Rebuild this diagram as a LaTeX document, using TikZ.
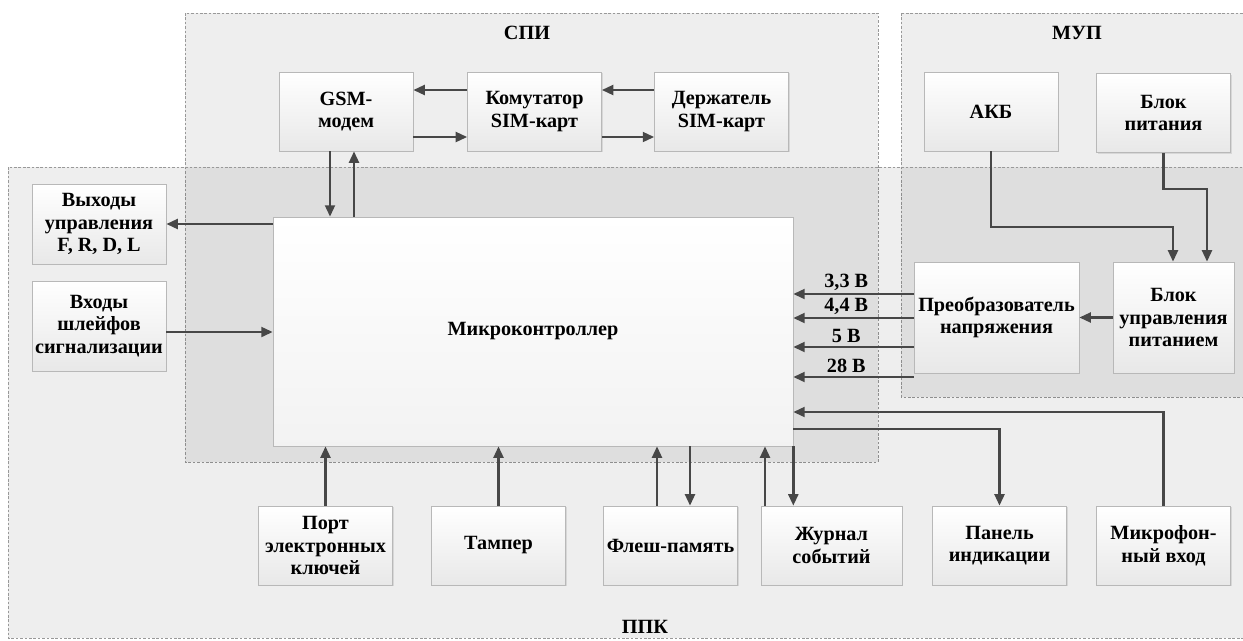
\documentclass[tikz,border=0pt]{standalone}
\usepackage{fontspec}
\setmainfont{Liberation Serif}
\usepackage{tikz}
\usetikzlibrary{positioning,
				arrows.meta,
				shadows,
				calc}

\begin{document}
\begin{tikzpicture}[x=0.02cm, y=-0.02cm,
		font=\fontsize{11.5}{12.8}\selectfont\bfseries,
		zone/.style={draw=black!40, dash pattern=on 1.5pt off 1pt, line width=0.4pt, fill=black, fill opacity=0.065},
		blk/.style={draw=black!28, top color=white, bottom color=black!9, align=center, inner sep=0pt,
			minimum width=2.68cm, minimum height=1.58cm,
			drop shadow={shadow xshift=0.8pt, shadow yshift=-0.8pt, opacity=0.2}},
		arr/.style={draw=black!72, line width=1.4pt, -{Triangle[length=6.5pt, width=5.6pt]}}]
	   \useasboundingbox (0,0) rectangle (1243,640);
	   % zones
	   \draw[zone] (185,13) rectangle (878,462);
	   \draw[zone] (901,13) rectangle (1250,397);
	   \draw[zone] (8,167) rectangle (1250,638);
	   \node at (527,33) {СПИ};
	   \node at (1077,33) {МУП};
	   \node at (645,627) {ППК};
	   % blocks
	   \node[blk] (gsm) at (346,111.5) {GSM-\\модем};
	   \node[blk] (kom) at (534.5,111.5) {Комутатор\\SIM-карт};
	   \node[blk] (derzh) at (721.5,111.5) {Держатель\\SIM-карт};
	   \node[blk] (akb) at (991,111.5) {АКБ};
	   \node[blk] (bp) at (1163.5,113) {Блок\\питания};
	   \node[blk, minimum height=1.6cm] (vyh) at (99,224) {Выходы\\управления\\F, R, D, L};
	   \node[blk, minimum height=1.8cm] (vh) at (99,326) {Входы\\шлейфов\\сигнализации};
	   \node[blk, bottom color=black!5, minimum width=10.4cm, minimum height=4.58cm] (mc) at (533,331.5) {Микроконтроллер};
	   \node[blk, minimum width=3.3cm, minimum height=2.22cm] (conv) at (996.5,317.5) {Преобразователь\\напряжения};
	   \node[blk, minimum width=2.42cm, minimum height=2.22cm] (bup) at (1173.5,317.5) {Блок\\управления\\питанием};
	   \node[blk] (port) at (325.5,545.5) {Порт\\электронных\\ключей};
	   \node[blk] (tamp) at (498.5,545.5) {Тампер};
	   \node[blk] (flash) at (670.5,545.5) {Флеш-память};
	   \node[blk, minimum width=2.82cm] (zhur) at (831.5,545.5) {Журнал\\событий};
	   \node[blk] (panel) at (999.5,545.5) {Панель\\индикации};
	   \node[blk] (mic) at (1163.5,545.5) {Микрофон-\\ный вход};
	   % links
	   \draw[arr] (kom.west |- 0,90) -- (gsm.east |- 0,90);
	   \draw[arr] (gsm.east |- 0,137) -- (kom.west |- 0,137);
	   \draw[arr] (derzh.west |- 0,90) -- (kom.east |- 0,90);
	   \draw[arr] (kom.east |- 0,137) -- (derzh.west |- 0,137);
	   \draw[arr] (gsm.south -| 330,0) -- (mc.north -| 330,0);
	   \draw[arr] (mc.north -| 354,0) -- (gsm.south -| 354,0);
	   \draw[arr] (mc.west |- 0,224) -- (vyh.east |- 0,224);
	   \draw[arr] (vh.east |- 0,332) -- (mc.west |- 0,332);
	   \draw[arr] (port.north) -- (mc.south -| port.north);
	   \draw[arr] (tamp.north) -- (mc.south -| tamp.north);
	   \draw[arr] (flash.north -| 657,0) -- (mc.south -| 657,0);
	   \draw[arr] (mc.south -| 690,0) -- (flash.north -| 690,0);
	   \draw[arr] (zhur.north -| 765,0) -- (mc.south -| 765,0);
	   \draw[arr] (mc.south east) -- (zhur.north -| mc.south east);
	   \draw[arr] (mc.east |- 0,429) -| (panel.north);
	   \draw[arr] (mic.north) |- (mc.east |- 0,412);
	   \foreach \y/\u in {294/{3,3 В}, 318/{4,4 В}, 347/{5 В}, 377/{28 В}}
	   		\draw[arr] (conv.west |- 0,\y) -- (mc.east |- 0,\y) node[pos=0.56, above, inner sep=1.5pt] {\u};
	   \draw[arr] (bup.west) -- (conv.east);
	   \draw[arr] (akb.south) |- (1173,227) -- (bup.north -| 1173,0);
	   \draw[arr] (bp.south) |- (1207,189) -- (bup.north -| 1207,0);
	\end{tikzpicture}
\end{document}
